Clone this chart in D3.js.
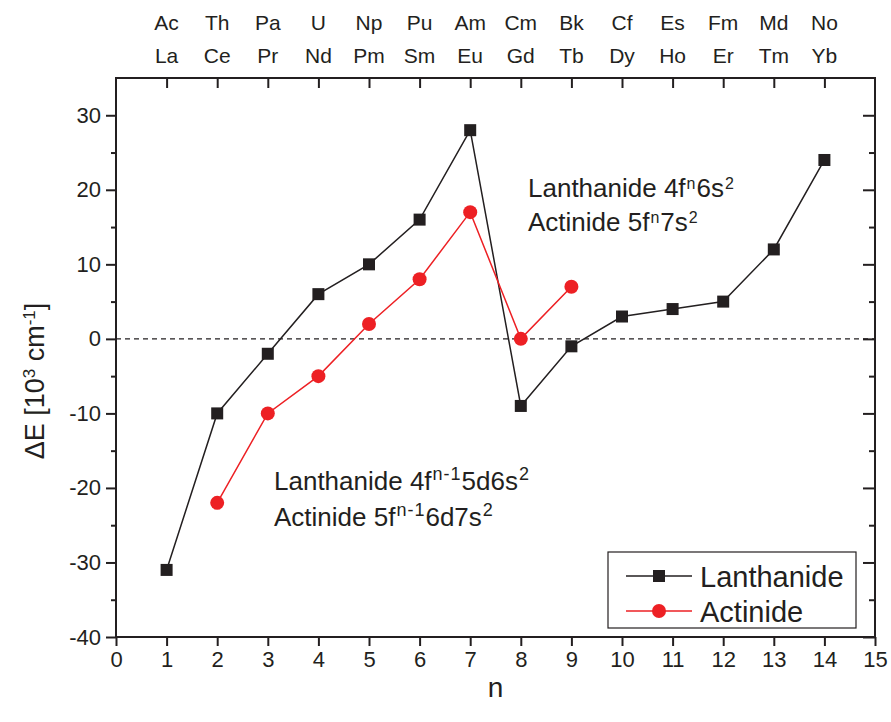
<!DOCTYPE html>
<html>
<head>
<meta charset="utf-8">
<script src="https://cdn.jsdelivr.net/npm/d3@7"></script>
<style>
  body { margin: 0; background: #fff; }
  svg { display: block; font-family: "Liberation Sans", Arial, sans-serif; }
</style>
</head>
<body>
<svg id="chart" width="891" height="722"></svg>
<script>
// Energy difference between configurations along the 4f / 5f rows
const nValues = [1, 2, 3, 4, 5, 6, 7, 8, 9, 10, 11, 12, 13, 14];
const lanthanideDE = [-31, -10, -2, 6, 10, 16, 28, -9, -1, 3, 4, 5, 12, 24];
const actinideN = [2, 3, 4, 5, 6, 7, 8, 9];
const actinideDE = [-22, -10, -5, 2, 8, 17, 0, 7];
const actinideSymbols = ["Ac", "Th", "Pa", "U", "Np", "Pu", "Am", "Cm", "Bk", "Cf", "Es", "Fm", "Md", "No"];
const lanthanideSymbols = ["La", "Ce", "Pr", "Nd", "Pm", "Sm", "Eu", "Gd", "Tb", "Dy", "Ho", "Er", "Tm", "Yb"];
const xTicks = d3.range(0, 16);
const yMajorTicks = [-40, -30, -20, -10, 0, 10, 20, 30];
const yMinorTicks = [-35, -25, -15, -5, 5, 15, 25];

const black = "#231f20";
const red = "#ed2024";

const svg = d3.select("#chart");
const margin = { left: 116, right: 16, top: 78, bottom: 85 };
const W = 891, H = 722;
const x = d3.scaleLinear().domain([0, 15]).range([margin.left, W - margin.right]);
const y = d3.scaleLinear().domain([-40, 35]).range([H - margin.bottom, margin.top]);
const intFmt = d => String(d);   // plain hyphen for negatives

const axisStyle = g => {
  g.select(".domain").remove();
  g.selectAll(".tick line").attr("stroke", black).attr("stroke-width", 2);
  g.selectAll(".tick text").attr("fill", black).attr("font-size", 22)
    .attr("font-family", "Liberation Sans, Arial, sans-serif");
};

// bottom axis
svg.append("g").attr("transform", `translate(0,${y(-40)})`)
  .call(d3.axisBottom(x).tickValues(xTicks).tickFormat(intFmt).tickSize(9).tickPadding(5))
  .call(axisStyle);

// left axis, major and minor
svg.append("g").attr("transform", `translate(${x(0)},0)`)
  .call(d3.axisLeft(y).tickValues(yMajorTicks).tickFormat(intFmt).tickSize(10).tickPadding(5))
  .call(axisStyle);
svg.append("g").attr("transform", `translate(${x(0)},0)`)
  .call(d3.axisLeft(y).tickValues(yMinorTicks).tickFormat("").tickSize(5))
  .call(axisStyle);

// right axis, inward ticks
svg.append("g").attr("transform", `translate(${x(15)},0)`)
  .call(d3.axisRight(y).tickValues(yMajorTicks).tickFormat("").tickSizeInner(-12).tickSizeOuter(0))
  .call(axisStyle);
svg.append("g").attr("transform", `translate(${x(15)},0)`)
  .call(d3.axisRight(y).tickValues(yMinorTicks).tickFormat("").tickSizeInner(-6).tickSizeOuter(0))
  .call(axisStyle);

// top axis, inward ticks with element labels
svg.append("g").attr("transform", `translate(0,${y(35)})`)
  .call(d3.axisTop(x).tickValues(nValues).tickFormat("").tickSizeInner(-10).tickSizeOuter(0))
  .call(axisStyle);
const topLabels = svg.append("g").attr("fill", black).attr("font-size", 21).attr("text-anchor", "middle");
topLabels.selectAll("text.act").data(nValues).join("text")
  .attr("x", d => x(d)).attr("y", 30).text((d, i) => actinideSymbols[i]);
topLabels.selectAll("text.lan").data(nValues).join("text")
  .attr("x", d => x(d)).attr("y", 63).text((d, i) => lanthanideSymbols[i]);

// frame
svg.append("rect")
  .attr("x", x(0)).attr("y", y(35))
  .attr("width", x(15) - x(0)).attr("height", y(-40) - y(35))
  .attr("fill", "none").attr("stroke", black).attr("stroke-width", 2);

// zero reference line
svg.append("line")
  .attr("x1", x(0)).attr("x2", x(15)).attr("y1", y(0)).attr("y2", y(0))
  .attr("stroke", black).attr("stroke-width", 1.2).attr("stroke-dasharray", "5,4");

// series
const lanData = nValues.map((n, i) => ({ n, v: lanthanideDE[i] }));
const actData = actinideN.map((n, i) => ({ n, v: actinideDE[i] }));
const line = d3.line().x(d => x(d.n)).y(d => y(d.v));

svg.append("path").datum(lanData).attr("d", line)
  .attr("fill", "none").attr("stroke", black).attr("stroke-width", 1.5);
svg.append("path").datum(actData).attr("d", line)
  .attr("fill", "none").attr("stroke", red).attr("stroke-width", 1.5);

const sq = 12;
svg.append("g").selectAll("rect").data(lanData).join("rect")
  .attr("x", d => x(d.n) - sq / 2).attr("y", d => y(d.v) - sq / 2)
  .attr("width", sq).attr("height", sq).attr("fill", black);
svg.append("g").selectAll("circle").data(actData).join("circle")
  .attr("cx", d => x(d.n)).attr("cy", d => y(d.v)).attr("r", 7).attr("fill", red);

// configuration annotations
function configLabel(xPos, yPos, size, supSize, parts) {
  const t = svg.append("text").attr("x", xPos).attr("y", yPos)
    .attr("font-size", size).attr("fill", black);
  parts.forEach(p => {
    const s = t.append("tspan").text(p.t);
    if (p.sup) s.attr("font-size", supSize).attr("baseline-shift", "super")
      .attr("dx", 1).attr("letter-spacing", 1);
  });
}
configLabel(528, 197, 26, 16, [{ t: "Lanthanide 4f" }, { t: "n", sup: true }, { t: "6s" }, { t: "2", sup: true }]);
configLabel(528, 231, 26, 16, [{ t: "Actinide 5f" }, { t: "n", sup: true }, { t: "7s" }, { t: "2", sup: true }]);
configLabel(274, 490, 26, 18, [{ t: "Lanthanide 4f" }, { t: "n-1", sup: true }, { t: "5d6s" }, { t: "2", sup: true }]);
configLabel(274, 526, 26, 18, [{ t: "Actinide 5f" }, { t: "n-1", sup: true }, { t: "6d7s" }, { t: "2", sup: true }]);

// axis titles
svg.append("text").attr("x", x(7.5)).attr("y", 697).attr("text-anchor", "middle")
  .attr("font-size", 28).attr("fill", black).text("n");
const yt = svg.append("text").attr("transform", "translate(44,381) rotate(-90)")
  .attr("text-anchor", "middle").attr("font-size", 27).attr("fill", black);
yt.append("tspan").text("\u0394E [10");
yt.append("tspan").text("3").attr("font-size", 17).attr("baseline-shift", "super");
yt.append("tspan").text(" cm");
yt.append("tspan").text("-1").attr("font-size", 17).attr("baseline-shift", "super");
yt.append("tspan").text("]");

// legend
const lg = svg.append("g");
lg.append("rect").attr("x", 608).attr("y", 552).attr("width", 248).attr("height", 76)
  .attr("fill", "#fff").attr("stroke", black).attr("stroke-width", 1.2);
const legendItems = [
  { name: "Lanthanide", color: black, shape: "square", yy: 576 },
  { name: "Actinide", color: red, shape: "circle", yy: 611 }
];
legendItems.forEach(it => {
  lg.append("line").attr("x1", 626).attr("x2", 692).attr("y1", it.yy).attr("y2", it.yy)
    .attr("stroke", it.color).attr("stroke-width", 1.5);
  if (it.shape === "square") {
    lg.append("rect").attr("x", 659 - sq / 2).attr("y", it.yy - sq / 2)
      .attr("width", sq).attr("height", sq).attr("fill", it.color);
  } else {
    lg.append("circle").attr("cx", 659).attr("cy", it.yy).attr("r", 7).attr("fill", it.color);
  }
  lg.append("text").attr("x", 700).attr("y", it.yy + 11).attr("font-size", 29)
    .attr("fill", black).text(it.name);
});
</script>
</body>
</html>
